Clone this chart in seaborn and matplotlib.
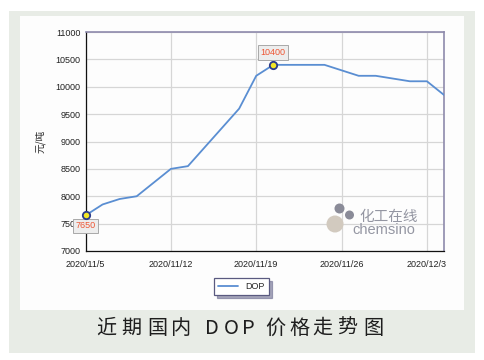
import matplotlib
matplotlib.use("Agg")
import matplotlib.pyplot as plt
from matplotlib.patches import Rectangle, Ellipse
import seaborn as sns
import pandas as pd

# DOP price, one value per working day
dates = ["2020/11/5", "2020/11/6", "2020/11/9", "2020/11/10", "2020/11/11",
         "2020/11/12", "2020/11/13", "2020/11/16", "2020/11/17", "2020/11/18",
         "2020/11/19", "2020/11/20", "2020/11/23", "2020/11/24", "2020/11/25",
         "2020/11/26", "2020/11/27", "2020/11/30", "2020/12/1", "2020/12/2",
         "2020/12/3", "2020/12/4"]
prices = [7650, 7850, 7950, 8000, 8250, 8500, 8550, 8900, 9250, 9600, 10200,
          10400, 10400, 10400, 10400, 10300, 10200, 10200, 10150, 10100, 10100, 9850]
yticks = [7000, 7500, 8000, 8500, 9000, 9500, 10000, 10500, 11000]
tick_every = 5
marked = [0, 11]  # first point and the peak
title_glyphs = ["近", "期", "国", "内", "D", "O", "P", "价", "格", "走", "势", "图"]

df = pd.DataFrame({"idx": range(len(dates)), "date": dates, "price": prices})

sns.set_theme(style="white")
plt.rcParams["font.family"] = ["Liberation Sans", "Noto Sans CJK SC", "DejaVu Sans"]
cjk = ["Noto Sans CJK SC", "DejaVu Sans"]

W, H = 485, 360
fig = plt.figure(figsize=(4.85, 3.6), dpi=100)
fig.patch.set_facecolor("white")


def fx(px):
    return px / W


def fy(py):
    return 1 - py / H


fig.add_artist(Rectangle((fx(9), fy(353)), fx(466), 342 / H, transform=fig.transFigure,
                         facecolor="#e8ece6", edgecolor="none", zorder=-20))
fig.add_artist(Rectangle((fx(20), fy(310)), fx(444), 294 / H, transform=fig.transFigure,
                         facecolor="#fdfdfd", edgecolor="none", zorder=-19))

ax = fig.add_axes([fx(85.5), fy(251), fx(358.5), 219 / H])
ax.set_facecolor("#fdfdfd")

line_color = "#5a8ed2"
sns.lineplot(data=df, x="idx", y="price", ax=ax, color=line_color,
             linewidth=1.3, label="DOP", zorder=3)

mk = df.iloc[marked]
ax.scatter(mk["idx"], mk["price"], s=28, facecolor="#f2e627",
           edgecolor="#2a3a8a", linewidth=1.3, zorder=5, clip_on=False)

box = dict(boxstyle="square,pad=0.3", facecolor="#ededed", edgecolor="#a8a8a8", linewidth=0.7)
ax.annotate(str(prices[11]), (df["idx"][11], prices[11]), xytext=(0, 9),
            textcoords="offset points", ha="center", va="center",
            fontsize=6.5, color="#ee5533", bbox=box, zorder=6)
ax.annotate(str(prices[0]), (df["idx"][0], prices[0]), xytext=(0, -7.5),
            textcoords="offset points", ha="center", va="center",
            fontsize=6.5, color="#ee5533", bbox=box, zorder=4, annotation_clip=False)

ax.set_xlim(0, len(dates) - 1)
ax.set_ylim(yticks[0], yticks[-1])
xt = list(range(0, len(dates), tick_every))
ax.set_xticks(xt)
ax.set_xticklabels([dates[i] for i in xt], fontsize=6.5)
ax.set_yticks(yticks)
ax.set_yticklabels([str(v) for v in yticks], fontsize=6.5)
ax.tick_params(axis="y", direction="inout", length=5, width=0.8, pad=1, colors="#222222")
ax.tick_params(axis="x", direction="inout", length=5, width=0.8, pad=4, colors="#222222")
ax.grid(True, color="#d6d6d6", linewidth=0.9)
ax.set_axisbelow(True)

for side in ["left", "bottom"]:
    ax.spines[side].set_color("#111111")
    ax.spines[side].set_linewidth(0.9)
for side in ["top", "right"]:
    ax.spines[side].set_color("#8e8aac")
    ax.spines[side].set_linewidth(1.2)

ax.set_xlabel("")
ax.set_ylabel("元/吨", fontsize=7, family=cjk, labelpad=7)

leg = ax.legend(loc="center", bbox_to_anchor=(fx(241.5), fy(286.5)),
                bbox_transform=fig.transFigure, fontsize=6.5, frameon=True,
                fancybox=False, shadow={"color": "#6c6c90", "alpha": 0.6},
                handlelength=2.2, borderpad=0.45)
leg.get_frame().set_edgecolor("#5a5a80")
leg.get_frame().set_linewidth(0.9)

# chemsino watermark
for cx, cy, r, c in [(335, 224, 8.5, "#d2cabf"), (339.5, 208.5, 5, "#8a8b98"),
                     (349.5, 215, 4.5, "#8a8b98")]:
    fig.add_artist(Ellipse((fx(cx), fy(cy)), 2 * r / W, 2 * r / H, transform=fig.transFigure,
                           facecolor=c, edgecolor="none", zorder=4))
fig.text(fx(389), fy(216.5), "化工在线", ha="center", va="center", fontsize=10.5,
         color="#9496a2", family=cjk, zorder=4)
fig.text(fx(384), fy(230.5), "chemsino", ha="center", va="center", fontsize=10.5,
         color="#9496a2", zorder=4)

# title, glyphs spaced out as in the original
glyph_x = [106.7, 131.7, 157.5, 181, 211.7, 231.7, 248.3, 275, 299, 322.5, 347.5, 373]
for g, gx in zip(title_glyphs, glyph_x):
    fig.text(fx(gx), fy(328), g, ha="center", va="center",
             fontsize=14.5, color="#1e1e1e", family=cjk)

fig.savefig("out.png", dpi=100)
